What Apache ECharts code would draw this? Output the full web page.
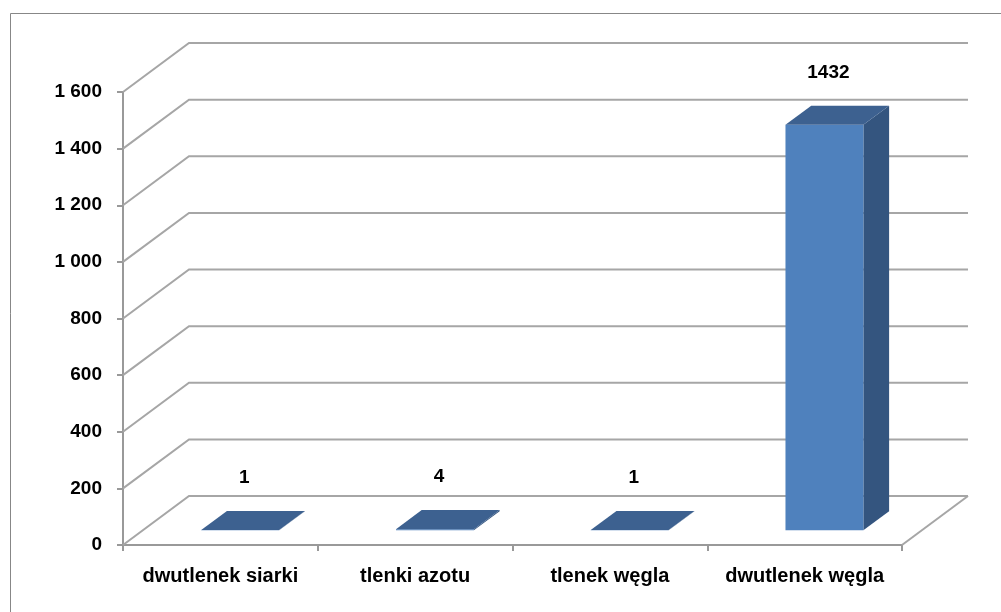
<!DOCTYPE html>
<html><head><meta charset="utf-8">
<script src="https://cdn.jsdelivr.net/npm/echarts@6/dist/echarts.min.js"></script>
<style>html,body{margin:0;padding:0;background:#fff}#c{width:1001px;height:612px}</style>
</head><body><div id="c"></div>
<script>
const categories = ['dwutlenek siarki', 'tlenki azotu', 'tlenek węgla', 'dwutlenek węgla'];
const values = [1, 4, 1, 1432];
const yTicks = [0, 200, 400, 600, 800, 1000, 1200, 1400, 1600];
const yTickLabels = ['0', '200', '400', '600', '800', '1 000', '1 200', '1 400', '1 600'];

const DX = 66, DY = -49;          // depth of the 3D box
const FRONT = 0.3, DEPTH = 0.39;  // bar position / depth as fraction of box depth
const FONT = 'bold 19px "Liberation Sans", Arial, sans-serif';
const GRID = '#a6a6a6';

const chart = echarts.init(document.getElementById('c'));
chart.setOption({
  animation: false,
  backgroundColor: '#fff',
  graphic: [{
    type: 'rect', left: 8, top: 11, silent: true,
    shape: { width: 991, height: 640 },
    style: { fill: 'none', stroke: '#878787', lineWidth: 1 }
  }],
  grid: { left: 123, right: 99, top: 92, bottom: 67, containLabel: false },
  xAxis: {
    type: 'category', data: categories,
    axisLine: { lineStyle: { color: '#999', width: 2 } },
    axisTick: { show: true, length: 6, interval: 0, lineStyle: { color: '#999', width: 2 } },
    axisLabel: { interval: 0, margin: 21, color: '#000', fontWeight: 'bold', fontSize: 20, fontFamily: '"Liberation Sans", Arial, sans-serif' },
    splitLine: { show: false }
  },
  yAxis: {
    type: 'value', min: 0, max: 1600, interval: 200,
    axisLine: { show: true, lineStyle: { color: '#999', width: 2 } },
    axisTick: { show: true, length: 6, lineStyle: { color: '#999', width: 2 } },
    axisLabel: {
      margin: 21, color: '#000', fontWeight: 'bold', fontSize: 19,
      fontFamily: '"Liberation Sans", Arial, sans-serif',
      formatter: v => yTickLabels[yTicks.indexOf(v)] ?? String(v)
    },
    splitLine: { show: false }
  },
  series: [
    {
      type: 'custom', name: 'walls', clip: false, silent: true, z: 1,
      data: yTicks.map(v => [0, v]),
      renderItem(params, api) {
        const cs = params.coordSys;
        const v = api.value(1);
        const y = api.coord([0, v])[1];
        const x0 = cs.x, x1 = cs.x + cs.width;
        const st = { stroke: GRID, lineWidth: 2, fill: null };
        const ch = [{ type: 'polyline', shape: { points: [[x0, y], [x0 + DX, y + DY], [x1 + DX, y + DY]] }, style: st }];
        if (v === 0) ch.push({ type: 'line', shape: { x1: x1, y1: y, x2: x1 + DX, y2: y + DY }, style: st });
        return { type: 'group', children: ch };
      }
    },
    {
      type: 'custom', name: 'emisja', clip: false, z: 3,
      data: values.map((v, i) => [i, v]),
      renderItem(params, api) {
        const i = api.value(0), v = api.value(1);
        const base = api.coord([i, 0]);
        const top = api.coord([i, v]);
        const bw = api.size([1, 0])[0] * 0.4;
        const fx = DX * FRONT, fy = DY * FRONT, bdx = DX * DEPTH, bdy = DY * DEPTH;
        const xl = base[0] + fx - bw / 2, xr = xl + bw;
        const yb = base[1] + fy, yt = top[1] + fy;
        return {
          type: 'group', children: [
            { type: 'polygon', shape: { points: [[xr, yb], [xr + bdx, yb + bdy], [xr + bdx, yt + bdy], [xr, yt]] }, style: { fill: '#34557f' } },
            { type: 'rect', shape: { x: xl, y: yt, width: bw, height: Math.max(yb - yt, 0) }, style: { fill: '#4f81bd' } },
            { type: 'polygon', shape: { points: [[xl, yt], [xr, yt], [xr + bdx, yt + bdy], [xl + bdx, yt + bdy]] }, style: { fill: '#3d6190' } },
            { type: 'text', style: { text: String(v), x: (xl + xr) / 2 + 4, y: yt + bdy - 33, align: 'center', verticalAlign: 'middle', font: FONT, fill: '#000' } }
          ]
        };
      }
    }
  ]
});
</script>
</body></html>
